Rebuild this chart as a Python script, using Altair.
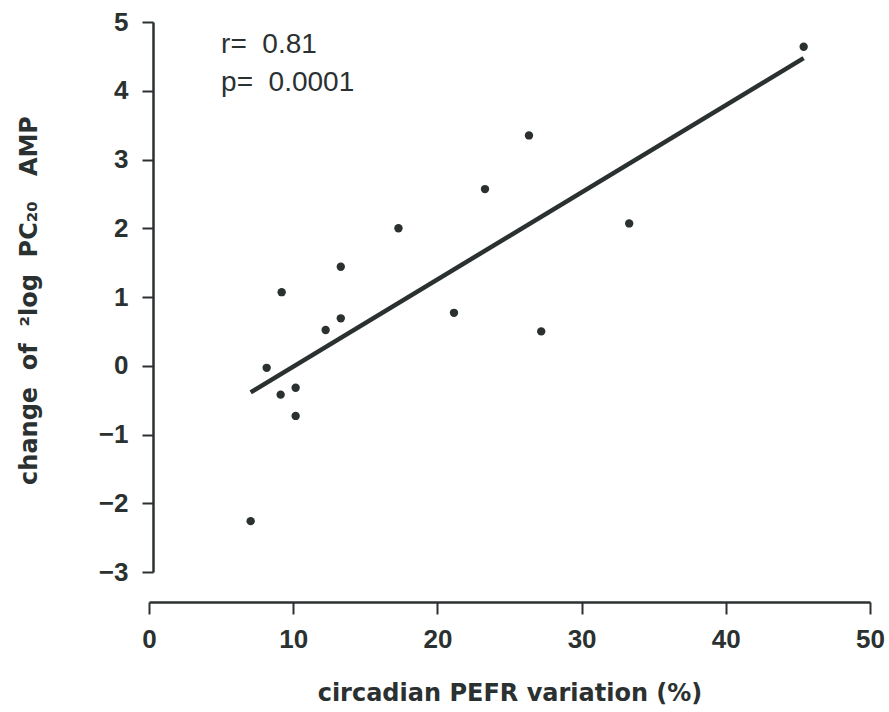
import altair as alt
import pandas as pd

# Data
pefr = [45.4, 26.35, 23.3, 17.3, 33.3, 13.3, 9.2, 21.15, 13.3, 12.25, 27.2, 8.16, 9.13, 10.17, 10.17, 7.05]
change = [4.64, 3.35, 2.57, 2.0, 2.07, 1.44, 1.07, 0.77, 0.69, 0.52, 0.50, -0.03, -0.42, -0.32, -0.73, -2.26]
x_ticks = [0, 10, 20, 30, 40, 50]
y_ticks = [-3, -2, -1, 0, 1, 2, 3, 4, 5]
ann_text = ["r=\u00a0 0.81", "p=\u00a0 0.0001"]
ann_x = [5.0, 5.0]
ann_y = [4.55, 4.0]

INK = "#2b3131"
FONT = "Liberation Sans"
NB = "\u00a0"

df = pd.DataFrame({"pefr": pefr, "change": change})
ann = pd.DataFrame({"t": ann_text, "x": ann_x, "y": ann_y})

xscale = alt.Scale(domain=[0, 50], nice=False, zero=False)
yscale = alt.Scale(domain=[-3, 5], nice=False, zero=False)

xaxis = alt.Axis(
    values=x_ticks, format="d", title="circadian PEFR variation (%)", offset=30, grid=False,
    tickSize=12, tickWidth=2, tickColor=INK, domainColor=INK, domainWidth=2.5,
    labelFont=FONT, labelFontSize=26, labelFontWeight="bold", labelColor=INK, labelPadding=12,
    labelFlush=False,
    titleFont="DejaVu Sans", titleFontSize=24, titleFontWeight="bold", titleColor=INK,
    titleBaseline="alphabetic", titleY=98,
)
ytitle = f"change{NB} of{NB} ²log{NB} PC₂₀{NB}{NB} AMP"
yaxis = alt.Axis(
    values=y_ticks, format="d", title=ytitle, offset=-4, grid=False,
    tickSize=11, tickWidth=2, tickColor=INK, domainColor=INK, domainWidth=2.5,
    labelFont=FONT, labelFontSize=26, labelFontWeight="bold", labelColor=INK, labelPadding=14,
    labelFlush=False,
    titleFont="DejaVu Sans", titleFontSize=24, titleFontWeight="bold", titleColor=INK,
    titleAngle=270, titleBaseline="middle", titleX=-124, titleY=278,
)

base = alt.Chart(df)

points = base.mark_circle(size=70, color=INK, opacity=1).encode(
    x=alt.X("pefr:Q", scale=xscale, axis=xaxis),
    y=alt.Y("change:Q", scale=yscale, axis=yaxis),
)

fit = base.transform_regression("pefr", "change").mark_line(
    color=INK, strokeWidth=4.5
).encode(
    x=alt.X("pefr:Q", scale=xscale),
    y=alt.Y("change:Q", scale=yscale),
)

text = alt.Chart(ann).mark_text(
    align="left", baseline="alphabetic", font=FONT, fontSize=28, color=INK
).encode(
    x=alt.X("x:Q", scale=xscale),
    y=alt.Y("y:Q", scale=yscale),
    text="t:N",
)

chart = (points + fit + text).properties(
    width=721, height=550,
    autosize=alt.AutoSizeParams(type="none"),
    padding={"left": 149, "top": 22, "right": 19, "bottom": 140},
    background="white",
).configure_view(stroke=None)

chart.save("out.html", embed_options={"renderer": "svg", "actions": False})
